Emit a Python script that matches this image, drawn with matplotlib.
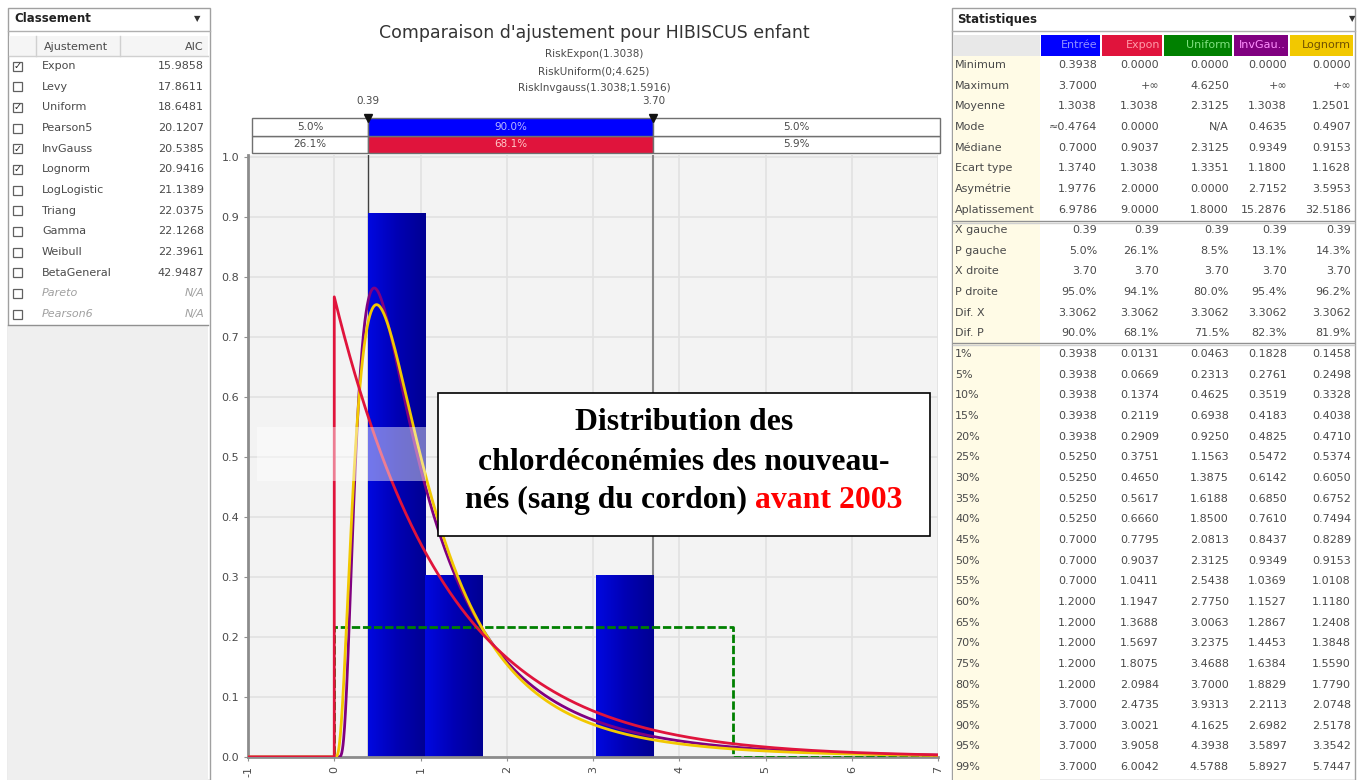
import numpy as np
import matplotlib
matplotlib.use("Agg")
import matplotlib.pyplot as plt
from matplotlib.patches import Rectangle
from matplotlib.colors import LinearSegmentedColormap

# ---- données ----
title = "Comparaison d'ajustement pour HIBISCUS enfant"
subtitles = ["RiskExpon(1.3038)", "RiskUniform(0;4.625)", "RiskInvgauss(1.3038;1.5916)"]

# histogramme (densité)
bin_edges = [0.39, 1.052, 1.714, 2.376, 3.038, 3.70]
bin_heights = [0.906, 0.302, 0.0, 0.0, 0.302]

# paramètres des lois ajustées (affichés dans le graphique / tableau)
expon_beta = 1.3038
unif_min, unif_max = 0.0, 4.625
invg_mu, invg_lambda = 1.3038, 1.5916
logn_mean, logn_std = 1.2501, 1.1628

x_left, x_right = 0.39, 3.70
pct_input = ["5.0%", "90.0%", "5.0%"]
pct_expon = ["26.1%", "68.1%", "5.9%"]

overlay_lines = ["Distribution des", "chlordéconémies des nouveau-", "nés (sang du cordon) "]
overlay_red = "avant 2003"

fit_names = ["Expon", "Levy", "Uniform", "Pearson5", "InvGauss", "Lognorm", "LogLogistic",
             "Triang", "Gamma", "Weibull", "BetaGeneral", "Pareto", "Pearson6"]
fit_aic = ["15.9858", "17.8611", "18.6481", "20.1207", "20.5385", "20.9416", "21.1389",
           "22.0375", "22.1268", "22.3961", "42.9487", "N/A", "N/A"]
fit_checked = [1, 0, 1, 0, 1, 1, 0, 0, 0, 0, 0, 0, 0]

stat_cols = ["Entrée", "Expon", "Uniform", "InvGau..", "Lognorm"]
stat_rows = ["Minimum", "Maximum", "Moyenne", "Mode", "Médiane", "Ecart type", "Asymétrie",
             "Aplatissement", "X gauche", "P gauche", "X droite", "P droite", "Dif. X", "Dif. P",
             "1%", "5%", "10%", "15%", "20%", "25%", "30%", "35%", "40%", "45%", "50%",
             "55%", "60%", "65%", "70%", "75%", "80%", "85%", "90%", "95%", "99%"]
stat_entree = ["0.3938", "3.7000", "1.3038", "≈0.4764", "0.7000", "1.3740", "1.9776", "6.9786",
               "0.39", "5.0%", "3.70", "95.0%", "3.3062", "90.0%",
               "0.3938", "0.3938", "0.3938", "0.3938", "0.3938", "0.5250", "0.5250", "0.5250",
               "0.5250", "0.7000", "0.7000", "0.7000", "1.2000", "1.2000", "1.2000", "1.2000",
               "1.2000", "3.7000", "3.7000", "3.7000", "3.7000"]
stat_expon = ["0.0000", "+∞", "1.3038", "0.0000", "0.9037", "1.3038", "2.0000", "9.0000",
              "0.39", "26.1%", "3.70", "94.1%", "3.3062", "68.1%",
              "0.0131", "0.0669", "0.1374", "0.2119", "0.2909", "0.3751", "0.4650", "0.5617",
              "0.6660", "0.7795", "0.9037", "1.0411", "1.1947", "1.3688", "1.5697", "1.8075",
              "2.0984", "2.4735", "3.0021", "3.9058", "6.0042"]
stat_uniform = ["0.0000", "4.6250", "2.3125", "N/A", "2.3125", "1.3351", "0.0000", "1.8000",
                "0.39", "8.5%", "3.70", "80.0%", "3.3062", "71.5%",
                "0.0463", "0.2313", "0.4625", "0.6938", "0.9250", "1.1563", "1.3875", "1.6188",
                "1.8500", "2.0813", "2.3125", "2.5438", "2.7750", "3.0063", "3.2375", "3.4688",
                "3.7000", "3.9313", "4.1625", "4.3938", "4.5788"]
stat_invgau = ["0.0000", "+∞", "1.3038", "0.4635", "0.9349", "1.1800", "2.7152", "15.2876",
               "0.39", "13.1%", "3.70", "95.4%", "3.3062", "82.3%",
               "0.1828", "0.2761", "0.3519", "0.4183", "0.4825", "0.5472", "0.6142", "0.6850",
               "0.7610", "0.8437", "0.9349", "1.0369", "1.1527", "1.2867", "1.4453", "1.6384",
               "1.8829", "2.2113", "2.6982", "3.5897", "5.8927"]
stat_lognorm = ["0.0000", "+∞", "1.2501", "0.4907", "0.9153", "1.1628", "3.5953", "32.5186",
                "0.39", "14.3%", "3.70", "96.2%", "3.3062", "81.9%",
                "0.1458", "0.2498", "0.3328", "0.4038", "0.4710", "0.5374", "0.6050", "0.6752",
                "0.7494", "0.8289", "0.9153", "1.0108", "1.1180", "1.2408", "1.3848", "1.5590",
                "1.7790", "2.0748", "2.5178", "3.3542", "5.7447"]

W, H = 1365, 780
C_BLUE, C_RED, C_GREEN, C_PURPLE, C_YELLOW = "#0000ff", "#e0143c", "#008000", "#800080", "#f2c800"
TXT = "#4a4a4a"

fig = plt.figure(figsize=(W / 100, H / 100), dpi=100)
fig.patch.set_facecolor("white")


def fbox(x0, y0, x1, y1):
    # pixels (origine en haut à gauche) -> coordonnées figure
    return [x0 / W, 1 - y1 / H, (x1 - x0) / W, (y1 - y0) / H]


# calque "interface" en pixels
ui = fig.add_axes([0, 0, 1, 1], zorder=0)
ui.set_xlim(0, W)
ui.set_ylim(H, 0)
ui.axis("off")

# ---------------- panneau gauche : Classement ----------------
ui.add_patch(Rectangle((8, 8), 202, 772, fc="white", ec="#a0a0a0", lw=1))
ui.add_patch(Rectangle((8, 325), 200, 455, fc="#efefef", ec="none"))
ui.plot([8, 210], [31, 31], color="#b0b0b0", lw=1)
ui.text(14, 19, "Classement", fontsize=8.5, fontweight="bold", color="#222222", va="center")
ui.text(197, 19, "▼", fontsize=6, color="#333333", va="center", ha="center")
ui.add_patch(Rectangle((9, 36), 199, 20, fc="#f5f5f5", ec="none"))
ui.plot([9, 208], [56, 56], color="#d0d0d0", lw=1)
for xs in (36, 120):
    ui.plot([xs, xs], [36, 56], color="#d0d0d0", lw=1)
ui.text(44, 46.5, "Ajustement", fontsize=8, color=TXT, va="center")
ui.text(204, 46.5, "AIC", fontsize=8, color=TXT, va="center", ha="right")
for i, (nm, aic, chk) in enumerate(zip(fit_names, fit_aic, fit_checked)):
    y = 66 + i * 20.67
    na = nm in ("Pareto", "Pearson6")
    col = "#a0a0a0" if na else TXT
    st = "italic" if na else "normal"
    ui.add_patch(Rectangle((13, y - 4.5), 9, 9, fc="white", ec="#606060", lw=0.9))
    if chk:
        ui.text(17.5, y, "✓", fontsize=7, color="#222222", ha="center", va="center")
    ui.text(42, y, nm, fontsize=8, color=col, style=st, va="center")
    ui.text(204, y, aic, fontsize=8, color=col, style=st, va="center", ha="right")
ui.plot([8, 208], [325, 325], color="#909090", lw=1)

# ---------------- panneau droit : Statistiques ----------------
ui.add_patch(Rectangle((952, 8), 403, 772, fc="white", ec="#a0a0a0", lw=1))
ui.plot([952, 1355], [31, 31], color="#b0b0b0", lw=1)
ui.text(957, 19, "Statistiques", fontsize=8.5, fontweight="bold", color="#222222", va="center")
ui.text(1352, 19, "▼", fontsize=6, color="#333333", va="center", ha="center")
ui.add_patch(Rectangle((953, 35), 87, 21, fc="#e8e8e8", ec="none"))
ui.add_patch(Rectangle((953, 56), 87, 724, fc="#fffbe6", ec="none"))
col_bounds = [(1041, 1100), (1102, 1162), (1164, 1232), (1234, 1288), (1290, 1353)]
col_bg = [C_BLUE, C_RED, C_GREEN, C_PURPLE, C_YELLOW]
col_fg = ["#9090ff", "#ff9aa8", "#80e080", "#ff90ff", "#705000"]
for (a, b), nm, bg, fg in zip(col_bounds, stat_cols, col_bg, col_fg):
    ui.add_patch(Rectangle((a, 35), b - a, 21, fc=bg, ec="none"))
    ui.text(b - 2, 45.5, nm, fontsize=8, color=fg, ha="right", va="center")
value_right = [1097, 1159, 1229, 1287, 1351]
columns = [stat_entree, stat_expon, stat_uniform, stat_invgau, stat_lognorm]
for r, lab in enumerate(stat_rows):
    y = 65 + r * 20.65
    ui.text(955, y, lab, fontsize=8, color=TXT, va="center")
    for xr, col in zip(value_right, columns):
        ui.text(xr, y, col[r], fontsize=8, color=TXT, va="center", ha="right")
for ys in (221, 343):
    ui.plot([953, 1354], [ys, ys], color="#909090", lw=1)
    ui.plot([953, 1354], [ys + 2, ys + 2], color="#d0d0d0", lw=1)

# ---------------- zone graphique ----------------
ui.text(594, 33, title, fontsize=12.5, color="#333333", ha="center", va="center")
for i, s in enumerate(subtitles):
    ui.text(594, 54 + i * 17, s, fontsize=7.5, color=TXT, ha="center", va="center")

ax = fig.add_axes(fbox(248, 155, 938, 757), zorder=1)
ax.set_facecolor("#f3f3f3")
ax.set_xlim(-1, 7)
ax.set_ylim(0, 602 / 600)
ax.set_xticks(range(-1, 8))
ax.set_yticks(np.arange(0, 1.01, 0.1))
ax.set_yticklabels([f"{v:.1f}" for v in np.arange(0, 1.01, 0.1)])
ax.set_xticklabels([str(v) for v in range(-1, 8)], rotation=90)
ax.tick_params(axis="both", labelsize=8, labelcolor=TXT, color="#909090", length=3)
ax.grid(True, color="#e2e2e2", lw=1.2)
ax.set_axisbelow(True)
for side in ("top", "right"):
    ax.spines[side].set_visible(False)
for side in ("left", "bottom"):
    ax.spines[side].set_color("#8c8c8c")
    ax.spines[side].set_linewidth(2)

ax.axvline(x_left, color="#404040", lw=1, zorder=1.5)
ax.axvline(x_right, color="#8a8a8a", lw=1.5, zorder=1.5)

cmap = LinearSegmentedColormap.from_list("bar", ["#0008e0", "#0000b4", "#000092"])
grad = np.linspace(0, 1, 64).reshape(1, -1)
for x0, x1, h in zip(bin_edges[:-1], bin_edges[1:], bin_heights):
    if h > 0:
        ax.imshow(grad, extent=(x0, x1, 0, h), cmap=cmap, aspect="auto",
                  origin="lower", zorder=2, interpolation="bilinear")
ax.set_xlim(-1, 7)
ax.set_ylim(0, 602 / 600)

# courbes des lois ajustées
xs = np.linspace(1e-4, 7, 2000)
pre_x = np.array([-1.0, 0.0])
pre_y = np.array([0.0, 0.0])
y_expon = np.exp(-xs / expon_beta) / expon_beta
y_invg = np.sqrt(invg_lambda / (2 * np.pi * xs ** 3)) * np.exp(
    -invg_lambda * (xs - invg_mu) ** 2 / (2 * invg_mu ** 2 * xs))
s2 = np.log(1 + (logn_std / logn_mean) ** 2)
mu_l = np.log(logn_mean) - s2 / 2
y_logn = np.exp(-(np.log(xs) - mu_l) ** 2 / (2 * s2)) / (xs * np.sqrt(2 * np.pi * s2))
h_u = 1 / (unif_max - unif_min)

ax.plot([-1, unif_min, unif_min, unif_max, unif_max, 7], [0, 0, h_u, h_u, 0, 0],
        color=C_GREEN, lw=2, ls=(0, (3, 1)), zorder=3)
ax.plot(np.r_[pre_x, xs], np.r_[pre_y, y_invg], color=C_PURPLE, lw=2, zorder=3.2)
ax.plot(np.r_[pre_x, xs], np.r_[pre_y, y_logn], color=C_YELLOW, lw=2, zorder=3.3)
ax.plot(np.r_[pre_x, xs], np.r_[pre_y, y_expon], color=C_RED, lw=2, zorder=3.4)

# bande claire (artefact de la capture)
ax.add_patch(Rectangle((-0.9, 0.46), 1.96, 0.09, fc="white", ec="none", alpha=0.45, zorder=4))

# barres de pourcentages au-dessus
pb = fig.add_axes(fbox(248, 118, 938, 153), zorder=2)
pb.set_xlim(-1, 7)
pb.set_ylim(0, 2)
pb.axis("off")
bx0, bx1 = -0.955, 7.02
for row, (pcts, mid_col, mid_txt) in enumerate([(pct_expon, C_RED, "#ffc8c8"),
                                                   (pct_input, C_BLUE, "#b8b8ff")]):
    segs = [(bx0, x_left, "white", TXT), (x_left, x_right, mid_col, mid_txt),
            (x_right, bx1, "white", TXT)]
    for (a, b, fc, tc), p in zip(segs, pcts):
        pb.add_patch(Rectangle((a, row), b - a, 1, fc=fc, ec="#707070", lw=1, clip_on=False))
        pb.text((a + b) / 2, row + 0.5, p, fontsize=7.5, color=tc, ha="center", va="center")
for xv in (x_left, x_right):
    pb.plot([xv], [2.0], marker="v", color="#111111", ms=6, clip_on=False, zorder=5)
    pb.text(xv, 2.95, f"{xv:.2f}", fontsize=7.5, color=TXT, ha="center", va="center")

# encadré de texte
ov = fig.add_axes([0, 0, 1, 1], zorder=5)
ov.set_xlim(0, W)
ov.set_ylim(H, 0)
ov.axis("off")
ov.add_patch(Rectangle((438, 393), 492, 143, fc="white", ec="black", lw=1.2))
tfont = dict(family="Liberation Serif", fontweight="bold", fontsize=22.9)
ov.text(684, 423, overlay_lines[0], ha="center", va="center", color="black", **tfont)
ov.text(684, 462, overlay_lines[1], ha="center", va="center", color="black", **tfont)
renderer = fig.canvas.get_renderer()
t1 = ov.text(0, 500, overlay_lines[2], ha="left", va="center", color="black", **tfont)
t2 = ov.text(0, 500, overlay_red, ha="left", va="center", color="#ff0000", **tfont)
w1 = t1.get_window_extent(renderer).width
w2 = t2.get_window_extent(renderer).width
start = 684 - (w1 + w2) / 2
t1.set_x(start)
t2.set_x(start + w1)

fig.savefig("out.png", dpi=100)
